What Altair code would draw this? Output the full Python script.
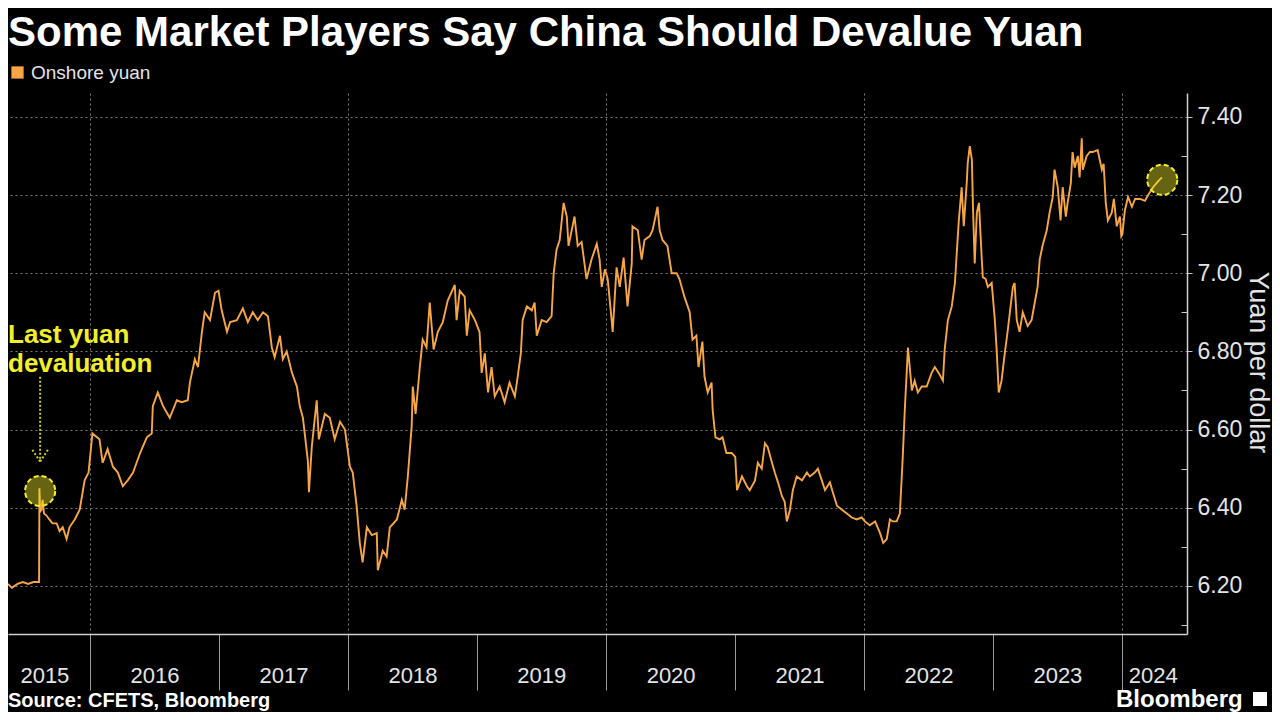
import altair as alt
import pandas as pd

# ---------------- text ----------------
TITLE = "Some Market Players Say China Should Devalue Yuan"
SERIES = "Onshore yuan"
SOURCE = "Source: CFETS, Bloomberg"
Y_TITLE = "Yuan per dollar"
BRAND = "Bloomberg"
ANNOT_TEXT = ["Last yuan", "devaluation"]

# ---------------- data ----------------
dates = [
    "2015-05-14", "2015-05-25", "2015-06-10", "2015-06-25", "2015-07-10", "2015-07-25", "2015-08-10",
    "2015-08-11", "2015-08-13", "2015-08-17", "2015-08-20", "2015-08-24", "2015-08-31", "2015-09-08",
    "2015-09-17", "2015-09-29", "2015-10-07", "2015-10-16", "2015-10-27", "2015-11-04", "2015-11-19",
    "2015-12-03", "2015-12-17", "2015-12-28",
    "2016-01-08", "2016-01-28", "2016-02-06", "2016-02-20", "2016-03-06", "2016-03-20", "2016-04-03",
    "2016-04-17", "2016-05-02", "2016-05-22", "2016-06-10", "2016-06-24", "2016-06-27", "2016-07-11",
    "2016-07-26", "2016-08-14", "2016-09-03", "2016-09-17", "2016-10-04", "2016-10-10", "2016-10-24",
    "2016-11-02", "2016-11-13", "2016-11-21", "2016-12-06", "2016-12-20", "2016-12-30",
    "2017-01-08", "2017-01-23", "2017-02-01", "2017-02-20", "2017-03-09", "2017-03-23", "2017-04-06",
    "2017-04-20", "2017-05-05", "2017-05-19", "2017-05-30", "2017-06-07", "2017-06-22", "2017-06-30",
    "2017-07-11", "2017-07-26", "2017-08-09", "2017-08-17", "2017-08-26", "2017-09-09", "2017-09-12",
    "2017-09-20", "2017-10-04", "2017-10-10", "2017-10-27", "2017-11-10", "2017-11-24", "2017-12-09",
    "2017-12-23",
    "2018-01-06", "2018-01-14", "2018-01-25", "2018-02-03", "2018-02-11", "2018-02-23", "2018-03-09",
    "2018-03-23", "2018-03-26", "2018-04-09", "2018-04-20", "2018-04-29", "2018-05-19", "2018-06-02",
    "2018-06-10", "2018-06-19", "2018-06-30", "2018-07-03", "2018-07-11", "2018-07-23", "2018-07-31",
    "2018-08-11", "2018-08-20", "2018-08-31", "2018-09-12", "2018-09-26", "2018-10-10", "2018-10-30",
    "2018-11-04", "2018-11-13", "2018-11-27", "2018-12-03", "2018-12-11", "2018-12-26",
    "2019-01-08", "2019-01-14", "2019-01-23", "2019-02-01", "2019-02-11", "2019-02-20", "2019-03-06",
    "2019-03-20", "2019-04-03", "2019-04-18", "2019-04-26", "2019-05-05", "2019-05-10", "2019-05-22",
    "2019-06-05", "2019-06-13", "2019-06-19", "2019-07-03", "2019-07-17", "2019-07-31", "2019-08-03",
    "2019-08-06", "2019-08-14", "2019-08-23", "2019-09-03", "2019-09-12", "2019-09-17", "2019-10-04",
    "2019-10-13", "2019-10-24", "2019-11-07", "2019-11-21", "2019-12-06", "2019-12-14", "2019-12-20",
    "2019-12-29",
    "2020-01-06", "2020-01-17", "2020-01-20", "2020-01-31", "2020-02-09", "2020-02-20", "2020-03-02",
    "2020-03-14", "2020-03-16", "2020-03-31", "2020-04-11", "2020-04-19", "2020-05-04", "2020-05-12",
    "2020-05-26", "2020-06-01", "2020-06-09", "2020-06-23", "2020-07-05", "2020-07-19", "2020-07-27",
    "2020-08-10", "2020-08-25", "2020-09-02", "2020-09-13", "2020-09-19", "2020-09-30", "2020-10-06",
    "2020-10-15", "2020-10-26", "2020-10-29", "2020-11-06", "2020-11-18", "2020-11-26", "2020-12-07",
    "2020-12-22",
    "2021-01-01", "2021-01-06", "2021-01-20", "2021-02-03", "2021-02-11", "2021-02-26", "2021-03-06",
    "2021-03-17", "2021-03-26", "2021-04-03", "2021-04-15", "2021-04-23", "2021-05-02", "2021-05-13",
    "2021-05-21", "2021-05-27", "2021-06-05", "2021-06-13", "2021-06-24", "2021-07-09", "2021-07-23",
    "2021-07-31", "2021-08-14", "2021-08-23", "2021-09-03", "2021-09-12", "2021-09-26", "2021-10-04",
    "2021-10-16", "2021-10-30", "2021-11-13", "2021-11-27", "2021-12-11", "2021-12-25",
    "2022-01-03", "2022-01-17", "2022-02-01", "2022-02-15", "2022-02-24", "2022-03-06", "2022-03-15",
    "2022-03-23", "2022-04-03", "2022-04-12", "2022-04-20", "2022-04-26", "2022-05-05", "2022-05-16",
    "2022-05-24", "2022-06-02", "2022-06-13", "2022-06-27", "2022-07-11", "2022-07-20", "2022-07-31",
    "2022-08-12", "2022-08-17", "2022-08-26", "2022-09-06", "2022-09-15", "2022-09-20", "2022-09-26",
    "2022-10-04", "2022-10-10", "2022-10-19", "2022-10-21", "2022-10-27", "2022-11-02", "2022-11-05",
    "2022-11-10", "2022-11-16", "2022-11-22", "2022-11-30", "2022-12-03", "2022-12-11", "2022-12-17",
    "2022-12-28",
    "2023-01-06", "2023-01-11", "2023-01-17", "2023-01-25", "2023-02-03", "2023-02-11", "2023-02-26",
    "2023-03-03", "2023-03-09", "2023-03-17", "2023-03-26", "2023-04-09", "2023-04-20", "2023-04-29",
    "2023-05-07", "2023-05-13", "2023-05-21", "2023-06-02", "2023-06-10", "2023-06-19", "2023-06-24",
    "2023-07-03", "2023-07-11", "2023-07-17", "2023-07-26", "2023-07-31", "2023-08-09", "2023-08-14",
    "2023-08-20", "2023-08-29", "2023-09-03", "2023-09-09", "2023-09-12", "2023-09-23", "2023-10-02",
    "2023-10-10", "2023-10-24", "2023-11-05", "2023-11-10", "2023-11-16", "2023-11-22", "2023-12-03",
    "2023-12-09", "2023-12-17", "2023-12-26", "2023-12-30",
    "2024-01-02", "2024-01-09", "2024-01-18", "2024-01-29", "2024-02-07", "2024-02-21", "2024-03-06",
    "2024-03-15", "2024-03-29", "2024-04-12", "2024-04-23",
]
rates = [
    6.205, 6.195, 6.205, 6.21, 6.205, 6.21, 6.21,
    6.45, 6.39, 6.395, 6.42, 6.385, 6.38, 6.37,
    6.36, 6.36, 6.34, 6.35, 6.32, 6.35, 6.37,
    6.395, 6.47, 6.49,
    6.59, 6.575, 6.515, 6.55, 6.505, 6.49, 6.455,
    6.47, 6.49, 6.54, 6.58, 6.59, 6.66, 6.695,
    6.66, 6.63, 6.675, 6.67, 6.675, 6.72, 6.78,
    6.76, 6.85, 6.90, 6.88, 6.95, 6.955,
    6.905, 6.85, 6.875, 6.88, 6.91, 6.875, 6.90,
    6.88, 6.90, 6.89, 6.81, 6.785, 6.84, 6.78,
    6.80, 6.745, 6.71, 6.66, 6.63, 6.52, 6.44,
    6.555, 6.675, 6.575, 6.64, 6.63, 6.575, 6.62,
    6.60,
    6.505, 6.49, 6.405, 6.31, 6.26, 6.35, 6.33,
    6.335, 6.24, 6.29, 6.275, 6.35, 6.37, 6.42,
    6.395, 6.48, 6.61, 6.71, 6.64, 6.76, 6.83,
    6.81, 6.925, 6.805, 6.85, 6.875, 6.93, 6.97,
    6.88, 6.955, 6.94, 6.84, 6.905, 6.88,
    6.85, 6.745, 6.795, 6.695, 6.76, 6.685, 6.71,
    6.67, 6.72, 6.685, 6.735, 6.795, 6.88, 6.915,
    6.905, 6.925, 6.84, 6.88, 6.875, 6.89, 6.945,
    7.00, 7.06, 7.085, 7.18, 7.145, 7.07, 7.145,
    7.07, 7.08, 6.985, 7.035, 7.075, 7.035, 6.965,
    7.01,
    6.985, 6.88, 6.85, 7.015, 6.965, 7.04, 6.915,
    7.025, 7.12, 7.11, 7.035, 7.085, 7.095, 7.11,
    7.17, 7.11, 7.085, 7.07, 7.00, 7.00, 6.985,
    6.94, 6.90, 6.83, 6.84, 6.76, 6.825, 6.735,
    6.695, 6.72, 6.65, 6.58, 6.575, 6.58, 6.54,
    6.54,
    6.53, 6.445, 6.48, 6.455, 6.445, 6.47, 6.515,
    6.50, 6.565, 6.555, 6.515, 6.49, 6.465, 6.43,
    6.415, 6.365, 6.395, 6.445, 6.48, 6.47, 6.49,
    6.48, 6.49, 6.50, 6.47, 6.445, 6.465, 6.44,
    6.405, 6.395, 6.385, 6.375, 6.37, 6.375,
    6.365, 6.355, 6.365, 6.335, 6.31, 6.32, 6.37,
    6.365, 6.365, 6.385, 6.525, 6.65, 6.81, 6.70,
    6.725, 6.695, 6.71, 6.71, 6.745, 6.76, 6.745,
    6.725, 6.805, 6.88, 6.915, 6.975, 7.05, 7.135,
    7.22, 7.12, 7.24, 7.28, 7.325, 7.29, 7.17,
    7.025, 7.155, 7.18, 7.035, 6.99, 6.985, 6.965,
    6.975,
    6.88, 6.805, 6.695, 6.725, 6.795, 6.85, 6.965,
    6.975, 6.88, 6.85, 6.90, 6.865, 6.88, 6.925,
    6.965, 7.035, 7.07, 7.11, 7.155, 7.195, 7.265,
    7.22, 7.135, 7.22, 7.145, 7.18, 7.23, 7.31,
    7.27, 7.30, 7.245, 7.345, 7.265, 7.30, 7.31,
    7.31, 7.315, 7.265, 7.28, 7.18, 7.135, 7.155,
    7.19, 7.12, 7.145, 7.095,
    7.10, 7.16, 7.195, 7.17, 7.19, 7.19, 7.185,
    7.20, 7.22, 7.235, 7.245,
]

# axis values
y_major = [6.2, 6.4, 6.6, 6.8, 7.0, 7.2, 7.4]
y_minor = [6.1, 6.3, 6.5, 6.7, 6.9, 7.1, 7.3]
year_ticks = [2016, 2017, 2018, 2019, 2020, 2021, 2022, 2023, 2024]
grid_years = [2016, 2018, 2020, 2022, 2024]
# centre of the visible part of each year (where the year label sits)
label_days = [(2015, 8, 25), (2016, 7, 2), (2017, 7, 2), (2018, 7, 2), (2019, 7, 2),
              (2020, 7, 2), (2021, 7, 2), (2022, 7, 2), (2023, 7, 2), (2024, 3, 28)]

# annotations
circle_dates = ["2015-08-13", "2024-04-24"]
circle_values = [6.443, 7.239]
arrow_from_dates = ["2015-08-13", "2015-07-22", "2015-09-04"]
arrow_to_dates = ["2015-08-13", "2015-08-13", "2015-08-13"]
arrow_from_values = [6.735, 6.548, 6.548]
arrow_to_values = [6.525, 6.518, 6.518]
annot_dates = ["2015-05-14", "2015-05-14"]
annot_values = [6.822, 6.748]

# ---------------- style ----------------
ORANGE = "#f7a646"
YELLOW = "#f2ee2a"
FG = "#e4e4e4"
GRID = "#7a7a7a"
FONT = "Liberation Sans"
W, H = 1179, 541

x_scale = alt.Scale(domain=[alt.DateTime(year=2015, month=5, date=14),
                            alt.DateTime(year=2024, month=7, date=3)], nice=False)
y_scale = alt.Scale(domain=[6.077, 7.461], zero=False, nice=False)

df = pd.DataFrame({"date": pd.to_datetime(dates), "value": rates, "series": SERIES})
circles = pd.DataFrame({"date": pd.to_datetime(circle_dates), "value": circle_values})
arrows = pd.DataFrame({"d1": pd.to_datetime(arrow_from_dates), "d2": pd.to_datetime(arrow_to_dates),
                       "v1": arrow_from_values, "v2": arrow_to_values})
annot = pd.DataFrame({"date": pd.to_datetime(annot_dates), "value": annot_values, "t": ANNOT_TEXT})


def dt(y, m=1, d=1):
    return alt.DateTime(year=y, month=m, date=d)


# gridlines layer
grid_layer = alt.Chart(df).mark_line(opacity=0).encode(
    x=alt.X("date:T", scale=x_scale, axis=alt.Axis(
        orient="bottom", values=[dt(y) for y in grid_years], grid=True, gridColor=GRID,
        gridDash=[2, 3], gridWidth=1, labels=False, ticks=False, domain=False, title=None)),
    y=alt.Y("value:Q", scale=y_scale, axis=alt.Axis(
        orient="right", values=y_major, grid=True, gridColor=GRID, gridDash=[2, 3],
        gridWidth=1, labels=False, ticks=False, domain=False, title=None)),
)

# main line with year ticks, right axis and legend
line = alt.Chart(df).mark_line(strokeWidth=1.9, clip=True).encode(
    x=alt.X("date:T", scale=x_scale, axis=alt.Axis(
        orient="bottom", values=[dt(y) for y in year_ticks], grid=False, labels=False,
        ticks=True, tickSize=56, tickColor="#9a9a9a", tickWidth=1, domain=True,
        domainColor="#d0d0d0", domainWidth=1.5, title=None)),
    y=alt.Y("value:Q", scale=y_scale, axis=alt.Axis(
        orient="right", values=y_major, format=".2f", grid=False,
        labelFont=FONT, labelFontSize=23, labelColor=FG, labelPadding=5, labelFlush=False,
        tickSize=5, tickColor="#c8c8c8", tickWidth=1, domain=True, domainColor="#d0d0d0",
        domainWidth=1.5, title=Y_TITLE, titleFont=FONT, titleFontSize=27,
        titleFontWeight="normal", titleColor=FG, titleAngle=90, titleX=70, titleY=269,
        titleAlign="center", titleBaseline="middle")),
    color=alt.Color("series:N", scale=alt.Scale(domain=[SERIES], range=[ORANGE]),
                    legend=alt.Legend(orient="none", legendX=0, legendY=-30, title=None,
                                      symbolType="square", symbolSize=150,
                                      symbolFillColor=ORANGE, symbolStrokeColor=ORANGE,
                                      symbolStrokeWidth=0, labelFont=FONT, labelFontSize=19,
                                      labelColor=FG, labelOffset=4, padding=0)),
)

# year labels + minor y ticks
label_layer = alt.Chart(df).mark_line(opacity=0).encode(
    x=alt.X("date:T", scale=x_scale, axis=alt.Axis(
        orient="bottom", values=[dt(*d) for d in label_days],
        labelExpr="timeFormat(datum.value, '%Y')",
        labelFont=FONT, labelFontSize=22, labelColor=FG, labelPadding=31, labelFlush=False,
        labelOverlap=False, ticks=False, domain=False, grid=False, title=None)),
    y=alt.Y("value:Q", scale=y_scale, axis=alt.Axis(
        orient="right", values=y_minor, offset=-6, tickSize=6, tickColor="#c8c8c8",
        labels=False, domain=False, grid=False, title=None)),
)

arrow_layer = alt.Chart(arrows).mark_rule(color=YELLOW, strokeWidth=2, strokeDash=[2, 2],
                                          opacity=0.85).encode(
    x=alt.X("d1:T", scale=x_scale, axis=None), x2="d2:T",
    y=alt.Y("v1:Q", scale=y_scale, axis=None), y2="v2:Q",
)

circle_layer = alt.Chart(circles).mark_point(
    shape="circle", filled=True, size=908, fill=YELLOW, fillOpacity=0.42, stroke=YELLOW,
    strokeWidth=2, strokeDash=[5, 3], opacity=1).encode(
    x=alt.X("date:T", scale=x_scale, axis=None),
    y=alt.Y("value:Q", scale=y_scale, axis=None),
)

annot_layer = alt.Chart(annot).mark_text(
    align="left", baseline="alphabetic", font=FONT, fontSize=26, fontWeight="bold",
    color=YELLOW).encode(
    x=alt.X("date:T", scale=x_scale, axis=None),
    y=alt.Y("value:Q", scale=y_scale, axis=None),
    text="t:N",
)

source_layer = alt.Chart(pd.DataFrame({"t": [SOURCE]})).mark_text(
    align="left", baseline="alphabetic", font=FONT, fontSize=20, fontWeight="bold",
    color="#ffffff").encode(x=alt.value(0), y=alt.value(614), text="t:N")

brand_layer = alt.Chart(pd.DataFrame({"t": [BRAND]})).mark_text(
    align="left", baseline="alphabetic", font=FONT, fontSize=24, fontWeight="bold",
    color="#ffffff").encode(x=alt.value(1108), y=alt.value(614), text="t:N")

icon_layer = alt.Chart(pd.DataFrame({"t": [BRAND]})).mark_square(
    size=196, color="#ffffff", opacity=1, cornerRadius=2).encode(
    x=alt.value(1252), y=alt.value(606))

chart = alt.layer(
    grid_layer, line, label_layer, arrow_layer, circle_layer, annot_layer,
    source_layer, brand_layer, icon_layer,
).resolve_axis(x="independent", y="independent").properties(
    width=W, height=H,
    autosize=alt.AutoSizeParams(type="none"),
    padding={"left": 0, "top": 85, "right": 85, "bottom": 78},
    background="#000000",
    title=alt.TitleParams(TITLE, anchor="start", frame="group", font=FONT, fontSize=42,
                          fontWeight="bold", color="#ffffff", offset=8),
).configure_view(stroke="transparent")

chart.save("out.html", embed_options={"renderer": "svg", "actions": False})
